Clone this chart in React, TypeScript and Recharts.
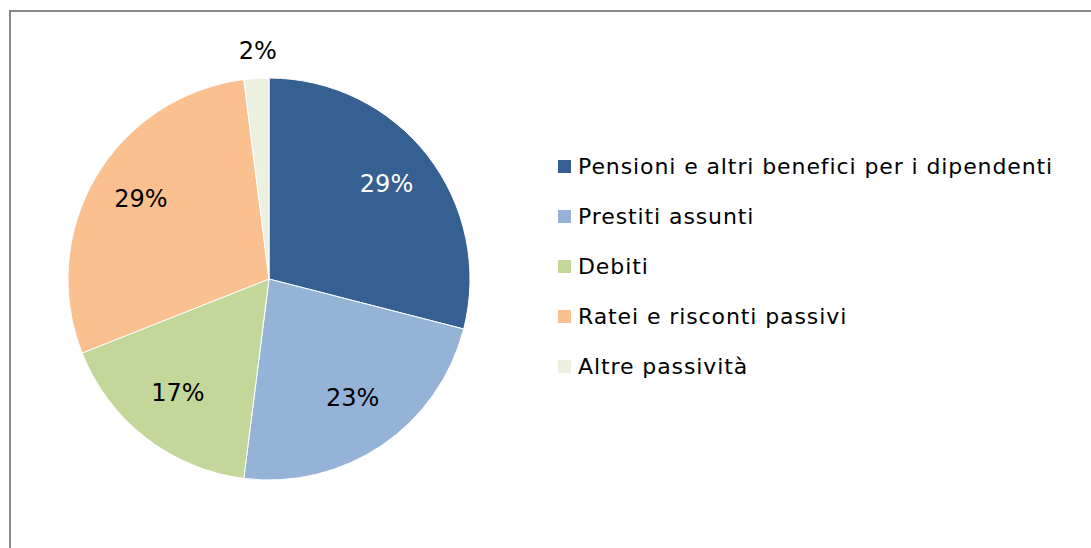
import { PieChart, Pie, Cell, Legend } from "recharts"

const categories = [
  "Pensioni e altri benefici per i dipendenti",
  "Prestiti assunti",
  "Debiti",
  "Ratei e risconti passivi",
  "Altre passività",
]
const shares = [29, 23, 17, 29, 2]
const colors = ["#376092", "#95B3D7", "#C4D79B", "#FAC090", "#EBF1DE"]

const chartData = categories.map((name, i) => ({ name, value: shares[i] }))

const RADIAN = Math.PI / 180

const renderLabel = (props: any) => {
  const { cx, cy, midAngle, outerRadius, percent, index } = props
  // the small slice gets its label outside the pie
  const outside = index === 4
  const r = outside ? outerRadius + 27 : outerRadius * 0.74
  const x = cx + r * Math.cos(-midAngle * RADIAN) + (outside ? 3 : 0)
  const y = cy + r * Math.sin(-midAngle * RADIAN) - (outside ? 0 : 4)
  return (
    <text
      x={x}
      y={y}
      fill={index === 0 ? "#ffffff" : "#000000"}
      textAnchor="middle"
      dominantBaseline="central"
      fontSize={24}
      fontFamily="DejaVu Sans"
    >
      {`${Math.round(percent * 100)}%`}
    </text>
  )
}

const CustomLegend = () => (
  <div
    style={{
      fontFamily: "DejaVu Sans",
      fontSize: 22,
      letterSpacing: 0.9,
      color: "#000",
    }}
  >
    {categories.map((name, i) => (
      <div
        key={name}
        style={{ display: "flex", alignItems: "center", height: 50 }}
      >
        <span
          style={{
            width: 13,
            height: 13,
            background: colors[i],
            marginRight: 7,
            display: "inline-block",
          }}
        />
        <span>{name}</span>
      </div>
    ))}
  </div>
)

export default function App() {
  return (
    <div
      style={{
        position: "absolute",
        left: 0,
        top: 0,
        width: 1091,
        height: 548,
        overflow: "hidden",
        background: "#fff",
      }}
    >
      <div
        style={{
          position: "absolute",
          left: 9,
          top: 10,
          width: 1120,
          height: 600,
          border: "2px solid #898989",
          boxSizing: "border-box",
        }}
      />
      <div style={{ position: "absolute", left: 0, top: 0 }}>
        <PieChart width={1091} height={548}>
          <Pie
            data={chartData}
            dataKey="value"
            nameKey="name"
            cx={264}
            cy={274}
            outerRadius={201}
            startAngle={90}
            endAngle={-270}
            stroke="#ffffff"
            strokeWidth={1}
            label={renderLabel}
            labelLine={false}
            isAnimationActive={false}
          >
            {chartData.map((d, i) => (
              <Cell key={d.name} fill={colors[i]} />
            ))}
          </Pie>
          <Legend
            content={<CustomLegend />}
            wrapperStyle={{ position: "absolute", left: 558, top: 141, width: 530 }}
          />
        </PieChart>
      </div>
    </div>
  )
}
